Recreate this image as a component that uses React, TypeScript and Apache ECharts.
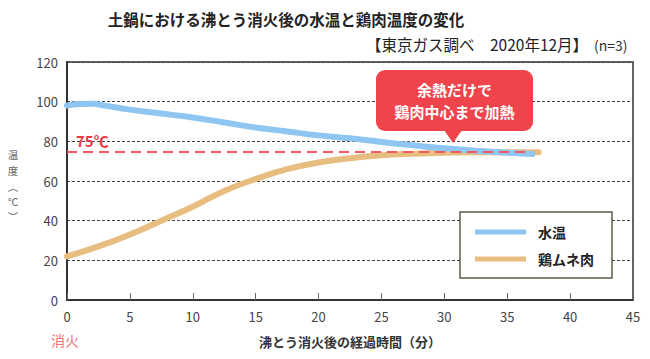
import React, { useEffect, useRef } from "react";
import * as echarts from "echarts";

const titleText = "土鍋における沸とう消火後の水温と鶏肉温度の変化";
const sourceText = "【東京ガス調べ　2020年12月】";
const nText = "(n=3)";
const seriesNames = ["水温", "鶏ムネ肉"];
const xAxisName = "沸とう消火後の経過時間（分）";
const yAxisChars = ["温", "度", "︵", "℃", "︶"];
const thresholdValue = 75;
const thresholdEnd = 36.5;
const calloutLines = ["余熱だけで", "鶏肉中心まで加熱"];

const waterTime = [0, 1, 2, 3, 5, 7.5, 10, 12.5, 15, 17.5, 20, 22.5, 25, 27.5, 30, 32.5, 35, 37];
const waterTemp = [98, 98.8, 99, 98, 96, 94, 92, 89.5, 87, 85, 83, 81.5, 79.7, 78, 76.5, 75.3, 74.3, 73.6];
const meatTime = [0, 2.5, 5, 7.5, 10, 12.5, 15, 17.5, 20, 22.5, 25, 27.5, 30, 32.5, 35, 37.5];
const meatTemp = [22, 27, 33, 40, 47, 55, 61, 66, 69.3, 71.5, 73, 73.8, 74.3, 74.5, 74.5, 74.5];

const colors = ["#8ec6f1", "#e7bd80"];

export default function App() {
  const ref = useRef<HTMLDivElement>(null);
  useEffect(() => {
    const chart = echarts.init(ref.current!, null, { renderer: "svg" });
    const font = "'Noto Sans CJK JP', 'Noto Sans', sans-serif";
    const yNameYs = [154, 170, 186, 201, 216];
    chart.setOption({
      animation: false,
      textStyle: { fontFamily: font },
      title: [
        {
          text: titleText,
          left: 281,
          top: 6,
          textAlign: "center",
          textStyle: { fontSize: 15.5, fontWeight: "bold", color: "#222", fontFamily: font },
        },
      ],
      grid: {
        left: 67,
        right: 17,
        top: 62,
        bottom: 59,
        show: true,
        borderColor: "#333",
        borderWidth: 1.5,
      },
      legend: {
        orient: "vertical",
        left: 460,
        top: 212,
        padding: [13, 18, 12, 15],
        itemWidth: 51,
        itemHeight: 5,
        itemGap: 13,
        borderColor: "#5e5e4a",
        borderWidth: 1.5,
        backgroundColor: "#fff",
        data: seriesNames.map((n) => ({ name: n, icon: "rect" })),
        textStyle: { fontSize: 14, fontWeight: "bold", color: "#222", padding: [0, 0, 0, 7], fontFamily: font },
      },
      xAxis: {
        type: "value",
        min: 0,
        max: 45,
        interval: 5,
        name: xAxisName,
        nameLocation: "middle",
        nameGap: 35,
        nameTextStyle: { fontSize: 13, fontWeight: "bold", color: "#333" },
        axisLine: { lineStyle: { color: "#333", width: 2 } },
        axisTick: { inside: true, length: 7, lineStyle: { color: "#666" } },
        axisLabel: { fontSize: 13, color: "#444", margin: 10 },
        splitLine: { show: false },
      },
      yAxis: {
        type: "value",
        min: 0,
        max: 120,
        interval: 20,
        axisLine: { show: true, lineStyle: { color: "#333", width: 2 } },
        axisTick: { show: false },
        axisLabel: { fontSize: 13, color: "#444", margin: 9 },
        splitLine: { lineStyle: { color: "#444", type: [3, 2], width: 1 } },
      },
      series: [
        {
          name: seriesNames[0],
          type: "line",
          smooth: true,
          showSymbol: false,
          symbol: "none",
          data: waterTime.map((t, i) => [t, waterTemp[i]]),
          lineStyle: { color: colors[0], width: 6, cap: "round" },
          itemStyle: { color: colors[0] },
          z: 3,
          markLine: {
            silent: true,
            symbol: "none",
            lineStyle: { color: "#f05a60", type: [10, 6], width: 2 },
            label: {
              show: true,
              position: "insideStartTop",
              formatter: "75℃",
              color: "#ee3a44",
              fontSize: 15,
              fontWeight: "bold",
              distance: [9, 3],
            },
            data: [[{ coord: [0, thresholdValue] }, { coord: [thresholdEnd, thresholdValue] }]],
          },
        },
        {
          name: seriesNames[1],
          type: "line",
          smooth: true,
          showSymbol: false,
          symbol: "none",
          data: meatTime.map((t, i) => [t, meatTemp[i]]),
          lineStyle: { color: colors[1], width: 6, cap: "round" },
          itemStyle: { color: colors[1] },
          z: 2,
        },
      ],
      graphic: [
        {
          type: "text",
          left: 366,
          top: 36,
          style: { text: sourceText, fontSize: 15.5, fill: "#222", fontFamily: font },
        },
        {
          type: "text",
          left: 594,
          top: 38,
          style: { text: nText, fontSize: 14, fill: "#333", fontFamily: font },
        },
        ...yAxisChars.map((ch, i) => ({
          type: "text",
          x: 13,
          y: yNameYs[i],
          style: {
            text: ch,
            fontSize: 10.5,
            fill: "#666",
            align: "center",
            verticalAlign: "middle",
            fontFamily: font,
          },
        })),
        {
          type: "text",
          left: 51,
          top: 333,
          style: { text: "消火", fontSize: 14, fill: "#f0707a", fontFamily: font },
        },
        {
          type: "rect",
          shape: { x: 376, y: 70, width: 157, height: 61, r: 9 },
          style: { fill: "#f0444c" },
          z: 10,
        },
        {
          type: "polygon",
          shape: { points: [[444, 130], [462, 130], [453, 143]] },
          style: { fill: "#f0444c" },
          z: 10,
        },
        {
          type: "text",
          x: 454.5,
          y: 100,
          style: {
            text: calloutLines.join("\n"),
            fontSize: 15,
            fontWeight: "bold",
            fill: "#fff",
            align: "center",
            verticalAlign: "middle",
            lineHeight: 22,
            fontFamily: font,
          },
          z: 11,
        },
      ],
    });
    return () => chart.dispose();
  }, []);
  return <div ref={ref} style={{ width: 650, height: 359, margin: -8 }} />;
}
